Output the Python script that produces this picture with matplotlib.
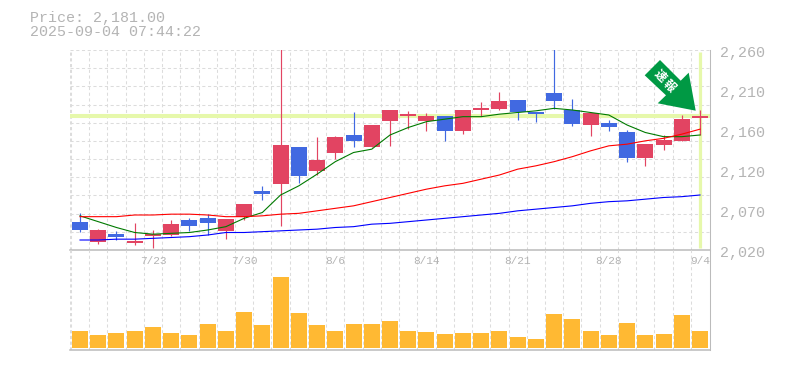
import numpy as np
import matplotlib
matplotlib.use("Agg")
import matplotlib.pyplot as plt
from matplotlib.patches import Polygon

# daily candles, prices
open_p = [2054, 2030, 2039, 2028, 2037, 2038, 2056, 2058, 2043, 2060, 2091, 2099, 2144, 2115, 2136, 2158, 2144, 2175, 2181, 2175, 2181, 2163, 2188, 2189, 2200, 2186, 2208, 2188, 2170, 2172, 2162, 2130, 2146, 2151, 2178]
close_p = [2044, 2044, 2036, 2031, 2039, 2051, 2049, 2052, 2057, 2075, 2087, 2146, 2109, 2128, 2156, 2151, 2170, 2188, 2183, 2181, 2163, 2188, 2190, 2199, 2185, 2183, 2199, 2171, 2184, 2168, 2130, 2147, 2152, 2177, 2181]
high_p = [2064, 2045, 2043, 2052, 2044, 2056, 2058, 2063, 2057, 2075, 2097, 2290, 2144, 2156, 2157, 2186, 2170, 2188, 2187, 2184, 2181, 2188, 2198, 2210, 2200, 2186, 2275, 2201, 2184, 2176, 2164, 2147, 2158, 2182, 2188]
low_p = [2042, 2027, 2032, 2026, 2022, 2037, 2043, 2038, 2033, 2056, 2080, 2049, 2100, 2110, 2129, 2144, 2144, 2145, 2165, 2163, 2151, 2159, 2181, 2188, 2176, 2174, 2189, 2169, 2157, 2163, 2126, 2121, 2140, 2151, 2158]

ma_short = [2061, 2054, 2047, 2041, 2039, 2040, 2041, 2044, 2048, 2058, 2065, 2086, 2097, 2111, 2126, 2137, 2141, 2158, 2167, 2174, 2177, 2180, 2180, 2183, 2185, 2187, 2190, 2188, 2185, 2182, 2170, 2161, 2156, 2156, 2158]
ma_mid = [2060, 2060, 2060, 2062, 2062, 2063, 2063, 2062, 2060, 2060, 2061, 2063, 2064, 2067, 2070, 2073, 2078, 2083, 2088, 2093, 2097, 2100, 2105, 2110, 2117, 2121, 2126, 2132, 2139, 2145, 2147, 2151, 2154, 2159, 2165]
ma_long = [2032, 2032, 2033, 2033, 2034, 2035, 2036, 2038, 2041, 2041, 2042, 2043, 2044, 2045, 2047, 2048, 2051, 2052, 2054, 2056, 2058, 2060, 2062, 2064, 2067, 2069, 2071, 2073, 2076, 2078, 2079, 2081, 2083, 2084, 2086]

volume = [17, 13, 15, 17, 21, 15, 13, 24, 17, 36, 23, 71, 35, 23, 17, 24, 24, 27, 17, 16, 14, 15, 15, 17, 11, 9, 34, 29, 17, 13, 25, 13, 14, 33, 17]

date_idx = [4, 9, 14, 19, 24, 29, 34]
date_labels = ["7/23", "7/30", "8/6", "8/14", "8/21", "8/28", "9/4"]
price_ticks = [2260, 2212, 2164, 2116, 2068, 2020]
price_labels = ["2,260", "2,210", "2,160", "2,120", "2,070", "2,020"]
last_price = 2181

W, H = 785, 370
RED, BLUE = "#e24462", "#4169e1"
GRID, FRAME, TXT = "#dcdcdc", "#bbbbbb", "#b4b4b4"
LIME = "#e6f8ab"
MONO = "Liberation Mono"
DASH = (0, (3, 2.5))


def axes_px(x0, y0, x1, y1):
    return fig.add_axes([x0 / W, 1 - y1 / H, (x1 - x0) / W, (y1 - y0) / H])


fig = plt.figure(figsize=(W / 100, H / 100), dpi=100, facecolor="white")
ax = axes_px(70, 50, 710, 250)
axv = axes_px(70, 250, 710, 350)

idx = np.arange(len(open_p))
# one slot = 18.235 px, candle 0 centred at x=80
xlim = (-10 / 18.235, 34 + 10 / 18.235)
grid_x = np.arange(-0.5, 34, 1)

for a in (ax, axv):
    a.set_xlim(xlim)
    a.set_facecolor("none")
    a.set_xticks([])
    a.set_yticks([])
    for s in a.spines.values():
        s.set_visible(False)
    for gx in grid_x:
        a.axvline(gx, color=GRID, lw=0.75, ls=DASH, zorder=1)
    a.axvline(xlim[0], color=GRID, lw=0.75, ls=DASH, zorder=1)
    a.spines["right"].set_visible(True)
    a.spines["right"].set_color(FRAME)
    a.spines["right"].set_linewidth(0.75)
    a.spines["bottom"].set_visible(True)
    a.spines["bottom"].set_color(FRAME)
    a.spines["bottom"].set_linewidth(1.1)

ax.set_ylim(2020, 2260)
axv.set_ylim(-2, 98)

# horizontal grid, 11 rows over the price panel
for gy in np.linspace(2020, 2260, 12)[1:]:
    ax.axhline(gy, color=GRID, lw=0.75, ls=DASH, zorder=1)

ax.axhline(last_price, color=LIME, lw=2.9, zorder=2)
ax.plot([idx[-1], idx[-1]], [2022, 2258], color=LIME, lw=2.3, zorder=2, solid_capstyle="butt")

# candles
for i in idx:
    up = close_p[i] >= open_p[i]
    c = RED if up else BLUE
    ax.vlines(i, low_p[i], high_p[i], color=c, lw=0.85, zorder=3)
    ax.bar(i, abs(close_p[i] - open_p[i]), bottom=min(open_p[i], close_p[i]), width=16 / 18.235, color=c, zorder=3)

ax.plot(idx, ma_short, color="#007a00", lw=0.8, zorder=4)
ax.plot(idx, ma_mid, color="#ff0000", lw=0.8, zorder=4)
ax.plot(idx, ma_long, color="#0000ff", lw=0.8, zorder=4)

axv.bar(idx, volume, width=16 / 18.235, color="#ffb933", zorder=3)

for i, lab in zip(date_idx, date_labels):
    fig.text((80 + i * 18.235) / W, 1 - 261 / H, lab, family=MONO, fontsize=8, color=TXT, ha="center", va="center")

for p, lab in zip(price_ticks, price_labels):
    y_px = 50 + (2260 - p) / 1.2 + 3.5
    fig.text(720 / W, 1 - y_px / H, lab, family=MONO, fontsize=10.8, color=TXT, ha="left", va="center")

fig.text(30 / W, 1 - 18 / H, "Price: 2,181.00", family=MONO, fontsize=10.8, color=TXT, ha="left", va="center")
fig.text(30 / W, 1 - 32.5 / H, "2025-09-04 07:44:22", family=MONO, fontsize=10.8, color=TXT, ha="left", va="center")

# green arrow badge, figure pixels
arrow_px = [(660, 60), (680.7, 80.7), (688.7, 72.7), (695.7, 110.7), (657.7, 103.3), (666, 95.3), (644.7, 75.3)]
fig.add_artist(Polygon([(x / W, 1 - y / H) for x, y in arrow_px], closed=True, transform=fig.transFigure, facecolor="#009944", edgecolor="none", zorder=6))
fig.text(660 / W, 1 - 75.5 / H, "速", family="Noto Sans CJK JP", fontsize=8.5, color="white", weight="bold", rotation=-45, ha="center", va="center", zorder=7)
fig.text(669.5 / W, 1 - 85.5 / H, "報", family="Noto Sans CJK JP", fontsize=8.5, color="white", weight="bold", rotation=-45, ha="center", va="center", zorder=7)

fig.savefig("out.png", dpi=100)
